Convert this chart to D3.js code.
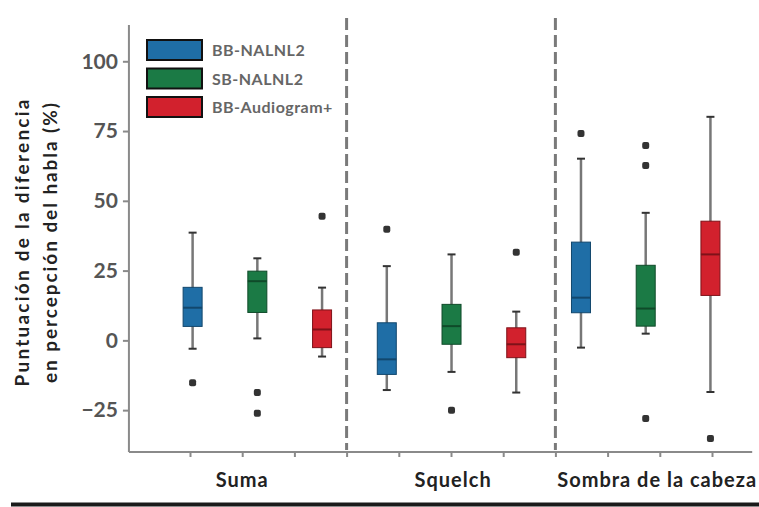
<!DOCTYPE html>
<html>
<head>
<meta charset="utf-8">
<script src="https://cdn.jsdelivr.net/npm/d3@7"></script>
<style>
  body { margin: 0; background: #fff; }
  svg { display: block; }
</style>
</head>
<body>
<svg id="chart" width="759" height="507"></svg>
<script>
// data
var groups = ['Suma', 'Squelch', 'Sombra de la cabeza'];
var series = ['BB-NALNL2', 'SB-NALNL2', 'BB-Audiogram+'];
var colors = ['#1f6ea6', '#1b7a45', '#d2212d'];
var darkColors = ['#12476d', '#0f4a29', '#7e1219'];
var yTicks = [-25, 0, 25, 50, 75, 100];

// one entry per box: [whiskerLow, q1, median, q3, whiskerHigh]
var sumaStats = [[-3, 5, 11.7, 19, 38.6], [0.7, 10, 21.2, 24.8, 29.4], [-5.8, -2.6, 3.9, 10.9, 18.9]];
var squelchStats = [[-17.8, -12.2, -6.8, 6.3, 26.6], [-11.3, -1.4, 5.1, 12.9, 30.8], [-18.7, -6.2, -1.4, 4.5, 10.3]];
var sombraStats = [[-2.6, 9.9, 15.3, 35.2, 65.1], [2.4, 5.1, 11.4, 26.9, 45.7], [-18.5, 16.1, 30.8, 42.7, 80.1]];

var sumaOutliers = [[-15.2], [-18.7, -26.1], [44.5]];
var squelchOutliers = [[39.8], [-25], [31.6]];
var sombraOutliers = [[74.1], [69.8, 62.7, -28], [-35.2]];

var allStats = [sumaStats, squelchStats, sombraStats];
var allOutliers = [sumaOutliers, squelchOutliers, sombraOutliers];

var svg = d3.select('#chart');
var W = 759, H = 507;

// x in "tick units": ticks at 0..10
var x = d3.scaleLinear().domain([0, 10]).range([190, 712]);
var y = d3.scaleLinear().domain([-40, 113]).range([452, 25]);
var xMin = -1.17, xMax = 10.77;
var boxW = 19;

function boxPos(g, s) { return 0.05 + 1.24 * (g * 3 + s); }

var fontFam = 'Lato, "Open Sans", sans-serif';

// dividers
[3, 7].forEach(function(t) {
    svg.append('line')
        .attr('x1', x(t)).attr('x2', x(t))
        .attr('y1', 18).attr('y2', 450)
        .attr('stroke', '#7a7a7a')
        .attr('stroke-width', 3)
        .attr('stroke-dasharray', '12,5');
});

// y axis
var yAxis = d3.axisLeft(y).tickValues(yTicks).tickSize(6).tickPadding(5)
    .tickFormat(function(d) { return d < 0 ? '\u2212' + Math.abs(d) : d; });
var yAxis_g = svg.append('g').attr('transform', 'translate(' + x(xMin) + ',0)').call(yAxis);
yAxis_g.select('.domain').attr('d', 'M0,' + y(113) + 'V' + y(-40));
yAxis_g.selectAll('path, line').attr('stroke', '#8a8a8a').attr('stroke-width', 2);
yAxis_g.selectAll('text')
    .attr('fill', '#555')
    .style('font-family', fontFam)
    .style('font-size', '21px')
    .style('font-weight', 'bold');

// x axis
var xAxis = d3.axisBottom(x).tickValues(d3.range(11)).tickSize(5).tickFormat('');
var xAxis_g = svg.append('g').attr('transform', 'translate(0,' + y(-40) + ')').call(xAxis);
xAxis_g.select('.domain').attr('d', 'M' + x(xMin) + ',0H' + x(xMax));
xAxis_g.selectAll('path, line').attr('stroke', '#8a8a8a').attr('stroke-width', 2);

// boxes
allStats.forEach(function(groupStats, g) {
    groupStats.forEach(function(st, s) {
        var cx = x(boxPos(g, s));
        var b = svg.append('g');
        b.append('line')
            .attr('x1', cx).attr('x2', cx)
            .attr('y1', y(st[0])).attr('y2', y(st[4]))
            .attr('stroke', '#777').attr('stroke-width', 2.5);
        [st[0], st[4]].forEach(function(v) {
            b.append('line')
                .attr('x1', cx - 4).attr('x2', cx + 4)
                .attr('y1', y(v)).attr('y2', y(v))
                .attr('stroke', '#333').attr('stroke-width', 2);
        });
        b.append('rect')
            .attr('x', cx - boxW / 2).attr('width', boxW)
            .attr('y', y(st[3])).attr('height', y(st[1]) - y(st[3]))
            .attr('fill', colors[s])
            .attr('stroke', darkColors[s]).attr('stroke-width', 1);
        b.append('line')
            .attr('x1', cx - boxW / 2).attr('x2', cx + boxW / 2)
            .attr('y1', y(st[2])).attr('y2', y(st[2]))
            .attr('stroke', darkColors[s]).attr('stroke-width', 2);
        allOutliers[g][s].forEach(function(v) {
            b.append('rect')
                .attr('x', cx - 3.5).attr('y', y(v) - 3.5)
                .attr('width', 7).attr('height', 7).attr('rx', 2)
                .attr('fill', '#333');
        });
    });
});

// group labels
var labelPos = [1, 5.04, 8.95];
groups.forEach(function(name, g) {
    svg.append('text')
        .attr('x', x(labelPos[g])).attr('y', 487)
        .attr('text-anchor', 'middle')
        .attr('fill', '#222')
        .style('font-family', fontFam)
        .style('font-size', '20px')
        .style('font-weight', 'bold')
        .style('letter-spacing', '1px')
        .text(name);
});

// y axis label
var yl = svg.append('text')
    .attr('transform', 'translate(0,243) rotate(-90)')
    .attr('text-anchor', 'middle')
    .attr('fill', '#222')
    .style('font-family', fontFam)
    .style('font-size', '19px')
    .style('font-weight', 'bold');
yl.append('tspan').attr('x', 0).attr('y', 29)
    .attr('textLength', 287).attr('lengthAdjust', 'spacing')
    .text('Puntuación de la diferencia');
yl.append('tspan').attr('x', 0).attr('y', 57)
    .attr('textLength', 280).attr('lengthAdjust', 'spacing')
    .text('en percepción del habla (%)');

// legend
var legend = svg.append('g').attr('transform', 'translate(147,40)');
series.forEach(function(name, i) {
    legend.append('rect')
        .attr('x', 0).attr('y', i * 28.5)
        .attr('width', 55).attr('height', 20)
        .attr('fill', colors[i])
        .attr('stroke', '#111').attr('stroke-width', 2);
    legend.append('text')
        .attr('x', 65).attr('y', i * 28.5 + 16)
        .attr('fill', '#666')
        .style('font-family', fontFam)
        .style('font-size', '16px')
        .style('font-weight', 'bold')
        .style('letter-spacing', '0.5px')
        .text(name);
});

// bottom rule
svg.append('line')
    .attr('x1', 11).attr('x2', W)
    .attr('y1', 504.5).attr('y2', 504.5)
    .attr('stroke', '#1a1a1a').attr('stroke-width', 4);
</script>
</body>
</html>
